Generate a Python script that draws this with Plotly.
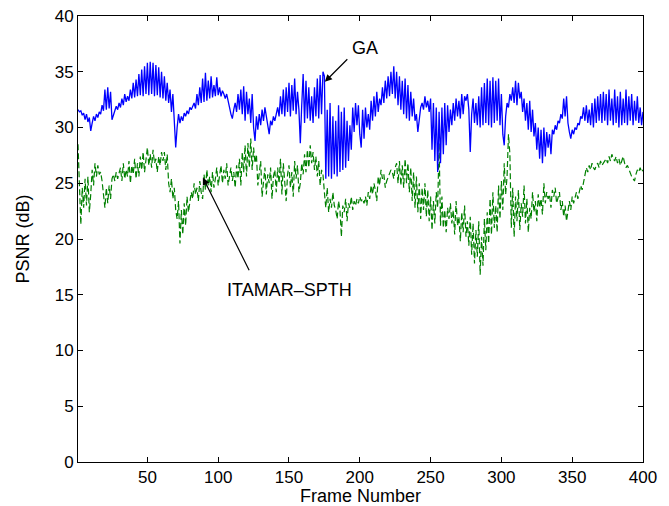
import plotly.graph_objects as go

frames = list(range(1, 401))

ga_psnr = [
    31.6, 31.4, 31.5, 31.1, 31.3, 30.7, 31.2, 30.5, 30.9, 29.7,
    30.4, 31.0, 30.6, 31.2, 30.9, 31.4, 31.2, 32.0, 31.5, 33.4,
    31.6, 33.6, 31.7, 33.2, 30.7, 31.2, 31.5, 31.9, 31.6, 32.2,
    31.8, 32.6, 32.0, 33.0, 32.3, 32.8, 32.4, 33.4, 32.6, 34.0,
    32.7, 34.3, 32.8, 34.8, 32.9, 35.2, 32.8, 35.5, 33.0, 35.8,
    32.9, 35.9, 33.0, 35.8, 32.8, 35.6, 32.9, 35.4, 32.7, 35.0,
    32.6, 34.6, 32.4, 34.0, 32.2, 33.4, 31.4, 33.0, 31.0, 28.2,
    30.0, 31.2, 30.4, 31.0, 30.6, 31.3, 31.0, 31.5, 31.2, 31.8,
    31.6, 32.0, 32.2, 31.7, 33.0, 32.0, 33.6, 32.2, 34.4, 32.3,
    34.9, 32.4, 34.2, 32.6, 34.6, 32.7, 33.8, 32.8, 34.5, 32.9,
    33.6, 32.8, 33.3, 33.0, 32.6, 33.0, 32.2, 31.8, 31.2, 30.8,
    31.6, 32.2, 31.4, 33.0, 31.6, 33.4, 31.2, 33.7, 30.6, 33.2,
    31.2, 32.6, 30.4, 33.0, 30.0, 28.8, 31.0, 29.8, 31.2, 30.2,
    31.6, 30.6, 31.8, 31.0, 30.4, 29.4, 30.6, 30.2, 31.0, 30.6,
    31.2, 31.8, 31.0, 32.8, 31.2, 33.4, 31.0, 33.6, 31.4, 34.0,
    31.0, 33.8, 31.5, 34.4, 31.2, 33.2, 31.6, 28.6, 32.0, 34.8,
    30.4, 34.2, 30.8, 33.6, 30.6, 32.8, 30.4, 33.6, 31.0, 34.4,
    30.8, 34.7, 31.2, 35.0, 34.6, 25.4, 31.6, 25.6, 32.2, 25.4,
    31.0, 25.8, 30.6, 25.6, 32.0, 26.0, 31.4, 26.2, 31.8, 26.4,
    30.6, 27.0, 30.2, 28.0, 31.8, 29.6, 32.2, 30.2, 32.0, 29.4,
    28.2, 31.6, 29.0, 31.8, 30.0, 31.2, 29.8, 32.4, 30.6, 32.8,
    31.0, 33.2, 31.4, 32.6, 32.0, 33.6, 32.2, 34.2, 32.6, 34.6,
    32.8, 35.0, 33.0, 35.5, 32.6, 35.0, 32.0, 34.6, 31.6, 34.2,
    31.2, 34.4, 30.8, 33.8, 30.6, 33.2, 31.0, 32.6, 30.6, 31.2,
    29.6, 31.0, 31.8, 32.2, 31.6, 32.8, 31.8, 32.4, 31.4, 32.6,
    28.0, 32.2, 27.0, 31.8, 26.0, 31.4, 26.8, 31.8, 27.6, 32.2,
    28.4, 32.0, 29.6, 31.6, 30.2, 32.2, 30.6, 32.6, 31.0, 32.4,
    30.8, 33.0, 31.2, 32.8, 32.4, 33.0, 31.6, 27.8, 31.2, 32.6,
    30.4, 32.2, 30.2, 32.8, 30.0, 33.6, 30.2, 34.0, 30.4, 34.4,
    30.2, 34.2, 30.0, 34.5, 30.4, 34.2, 30.6, 34.4, 30.2, 33.0,
    29.4, 28.4, 31.0, 32.2, 31.8, 33.0, 32.4, 33.6, 32.2, 34.2,
    32.0, 34.0, 32.6, 33.2, 31.4, 32.6, 30.6, 32.2, 29.8, 32.4,
    29.6, 31.6, 29.2, 30.4, 28.0, 30.0, 27.2, 29.8, 26.8, 30.0,
    27.4, 29.6, 28.2, 29.4, 27.6, 29.8, 29.4, 30.2, 29.8, 30.6,
    30.4, 31.2, 30.8, 32.6, 31.0, 32.8, 30.4, 29.6, 29.0, 29.8,
    29.4, 30.0, 29.8, 30.4, 30.2, 31.0, 30.8, 31.8, 30.6, 32.0,
    30.4, 31.6, 30.2, 32.2, 30.0, 32.6, 30.4, 32.8, 30.6, 33.0,
    30.4, 33.2, 30.6, 33.0, 30.2, 33.4, 30.6, 32.6, 30.2, 33.4,
    30.4, 32.8, 30.0, 33.2, 30.2, 32.6, 30.4, 33.4, 30.2, 32.8,
    30.6, 33.0, 30.2, 32.4, 30.6, 32.8, 30.4, 31.8, 30.2, 31.4,
]

itamar_psnr = [
    28.5, 24.0, 21.3, 24.6, 22.8, 25.4, 23.0, 25.6, 22.4, 24.0,
    26.2, 24.8, 26.8, 25.6, 26.6, 25.8, 26.0, 25.2, 24.0, 22.8,
    24.6, 23.2, 24.8, 23.6, 25.4, 25.8, 25.2, 26.0, 25.4, 25.8,
    26.4, 25.2, 26.8, 25.4, 26.2, 25.6, 27.0, 25.0, 26.6, 25.8,
    27.2, 25.4, 26.8, 25.6, 27.4, 26.2, 27.8, 26.0, 27.0, 28.2,
    26.6, 27.6, 26.4, 28.0, 26.8, 27.2, 26.0, 27.4, 26.6, 27.8,
    27.0, 27.8, 26.2, 27.6, 25.0, 24.2, 25.4, 23.6, 24.6, 22.6,
    21.8, 23.4, 19.6, 22.6, 20.4, 23.2, 21.2, 23.8, 22.4, 23.4,
    24.2, 23.6, 25.0, 24.0, 24.6, 23.4, 25.2, 24.2, 23.6, 25.8,
    24.4, 26.2, 24.8, 25.6, 24.2, 26.0, 24.6, 25.4, 26.4, 24.8,
    25.6, 26.6, 25.0, 26.2, 25.4, 26.8, 24.8, 25.6, 26.4, 25.2,
    26.0, 24.6, 26.6, 25.4, 27.2, 24.8, 27.8, 26.0, 28.4, 25.6,
    28.6, 26.4, 29.0, 26.2, 28.2, 26.8, 27.6, 24.8, 26.2, 27.0,
    23.8, 25.2, 26.4, 24.0, 25.8, 25.0, 26.4, 23.6, 25.6, 26.2,
    24.2, 26.4, 25.0, 27.2, 24.0, 26.8, 25.2, 23.4, 25.8, 26.6,
    24.6, 26.0, 23.8, 27.0, 25.4, 26.6, 24.2, 25.0, 26.8, 25.8,
    27.6, 26.0, 28.0, 26.4, 28.4, 26.8, 27.8, 26.2, 27.4, 25.6,
    27.0, 24.8, 26.2, 25.8, 24.2, 22.8, 24.6, 22.4, 23.6, 22.8,
    24.2, 23.0, 22.6, 21.8, 23.4, 22.6, 20.2, 23.0, 22.4, 23.6,
    21.6, 23.2, 22.8, 23.8, 22.6, 23.4, 23.0, 23.6, 23.2, 23.8,
    23.4, 23.6, 23.2, 23.8, 23.0, 24.2, 23.6, 24.8, 24.0, 25.0,
    24.4, 23.4, 25.6, 24.8, 26.2, 25.4, 25.8, 24.6, 25.2, 25.6,
    25.8, 26.2, 26.0, 25.4, 26.4, 26.8, 25.0, 27.0, 24.8, 26.6,
    24.6, 27.2, 25.0, 26.8, 24.2, 26.4, 23.4, 26.0, 22.8, 25.6,
    22.4, 25.0, 21.8, 24.6, 22.6, 25.0, 22.0, 24.4, 21.6, 23.8,
    20.8, 23.4, 21.4, 24.2, 22.8, 28.6, 21.2, 23.8, 21.0, 22.6,
    20.6, 22.8, 21.8, 23.2, 21.4, 22.6, 20.4, 23.4, 21.2, 22.0,
    19.8, 22.4, 20.6, 23.0, 20.2, 21.6, 19.4, 22.0, 18.6, 21.4,
    17.8, 20.8, 18.4, 21.6, 16.8, 20.2, 17.6, 21.8, 19.0, 22.4,
    19.6, 23.6, 20.4, 24.2, 21.0, 23.0, 20.6, 24.8, 21.8, 25.2,
    22.6, 26.8, 24.0, 25.6, 29.4, 27.6, 21.0, 24.6, 20.2, 23.8,
    21.6, 24.4, 20.8, 23.2, 22.0, 24.8, 21.4, 23.6, 20.6, 22.8,
    21.8, 24.2, 22.4, 23.4, 21.6, 24.0, 22.8, 23.6, 22.2, 25.0,
    23.2, 24.2, 23.6, 24.0, 22.8, 24.4, 23.8, 24.6, 23.2, 23.8,
    24.2, 22.6, 23.4, 22.0, 23.0, 21.6, 22.8, 23.4, 22.6, 23.8,
    23.2, 23.8, 24.2, 23.6, 24.4, 24.8, 24.4, 25.2, 25.8, 26.4,
    26.0, 26.6, 26.2, 26.8, 26.4, 26.2, 26.6, 26.8, 26.4, 27.0,
    26.6, 26.8, 27.0, 27.2, 26.8, 27.4, 27.0, 27.6, 27.2, 27.0,
    27.4, 26.8, 27.2, 26.6, 27.0, 27.4, 26.8, 26.4, 26.6, 26.2,
    25.8, 25.6, 25.4, 25.2, 25.8, 26.2, 26.0, 26.4, 26.0, 26.2,
]

x_ticks = [50, 100, 150, 200, 250, 300, 350, 400]
y_ticks = [0, 5, 10, 15, 20, 25, 30, 35, 40]

FONT = "Liberation Sans, Arial, Helvetica, sans-serif"

fig = go.Figure()
fig.add_trace(go.Scatter(x=frames, y=itamar_psnr, mode="lines", name="ITAMAR-SPTH",
                         line=dict(color="#008000", width=1.2, dash="6px,3px")))
fig.add_trace(go.Scatter(x=frames, y=ga_psnr, mode="lines", name="GA",
                         line=dict(color="#0000FF", width=1.3)))

axis_common = dict(showgrid=False, zeroline=False, showline=True, linecolor="black",
                   linewidth=1, mirror="ticks", ticks="inside", ticklen=5,
                   tickcolor="black", ticklabeloverflow="allow", automargin=False,
                   tickfont=dict(size=17, color="black", family=FONT))

fig.update_xaxes(range=[1, 400], tickvals=x_ticks, title=dict(text="Frame Number", standoff=1,
                 font=dict(size=18, color="black", family=FONT)), **axis_common)
fig.update_yaxes(range=[0, 40], tickvals=y_ticks, title=dict(text="PSNR (dB)", standoff=20,
                 font=dict(size=18, color="black", family=FONT)), **axis_common)

# text labels
fig.add_annotation(x=203.5, y=37.1, text="GA", showarrow=False,
                   font=dict(size=18, color="black", family=FONT))
fig.add_annotation(x=150.6, y=15.4, text="ITAMAR\u2013SPTH", showarrow=False,
                   font=dict(size=18, color="black", family=FONT))
# arrows
fig.add_annotation(x=175.3, y=34.1, text="", showarrow=True, ax=24, ay=-24,
                   arrowhead=2, arrowsize=1.2, arrowwidth=1.2, arrowcolor="black")
fig.add_annotation(x=89.2, y=25.5, text="", showarrow=True, ax=47, ay=94,
                   arrowhead=2, arrowsize=1.2, arrowwidth=1.2, arrowcolor="black")

fig.update_layout(width=661, height=498, plot_bgcolor="white", paper_bgcolor="white",
                  margin=dict(l=70, r=26, t=8, b=44), showlegend=False,
                  font=dict(family=FONT, color="black"))

fig.write_html("out.html")
